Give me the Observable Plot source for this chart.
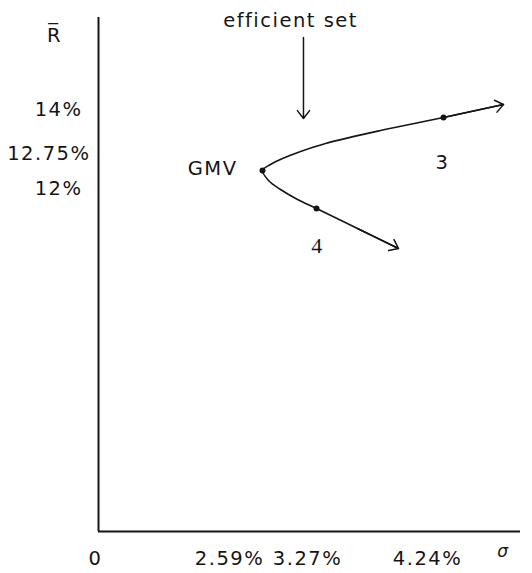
<!DOCTYPE html>
<html><head><meta charset="utf-8">
<script src="https://cdn.jsdelivr.net/npm/d3@7"></script>
<script src="https://cdn.jsdelivr.net/npm/@observablehq/plot@0.6"></script>
<style>
body{margin:0;background:#fff}
#chart svg text{letter-spacing:1.5px}
</style></head><body><div id="chart"></div>
<script>
// Efficient frontier (schematic): sigma (%) and mean return R (%)
const curveSigma  = [3.896, 3.583, 3.27, 3.031, 2.817, 2.666, 2.59, 2.691, 2.842, 3.069, 3.339, 3.759, 4.24, 4.698];
const curveReturn = [10.514, 11.257, 12.0, 12.178, 12.375, 12.553, 12.75, 12.892, 13.033, 13.198, 13.387, 13.693, 14.0, 14.307];

const pointNames  = ["GMV", "3", "4"];
const pointSigma  = [2.59, 4.24, 3.27];
const pointReturn = [12.75, 14, 12];

const xTicks      = [0, 2.59, 3.27, 4.24];
const xTickLabels = ["0", "2.59%", "3.27%", "4.24%"];
const yTicks      = [14, 12.75, 12];
const yTickLabels = ["14%", "12.75%", "12%"];

const annotText   = ["efficient set"];
const annotSigma  = [2.943];
const annotReturn = [16.288];
const annotArrowSigma = [3.106];
const annotArrowFrom  = [15.887];
const annotArrowTo    = [13.976];

const axisSigmaEnd  = 4.828;
const axisReturnTop = 16.36;

// label nudges (styling of the hand-drawn layout)
const xTickDx = [-3, -33, -9, -16];
const yTickDx = [-16, -8, -16];
const yTickDy = [-8, -17, -20];

const curve = curveSigma.map((s, i) => ({sigma: s, ret: curveReturn[i]}));
const pts = pointNames.map((n, i) => ({name: n, sigma: pointSigma[i], ret: pointReturn[i]}));
const n = curve.length;
const ends = [{from: curve[1], to: curve[0]}, {from: curve[n - 2], to: curve[n - 1]}];

const ink = "#151515";
const font = "DejaVu Sans";

const marks = [
  Plot.ruleX([0], {x: d => d, y1: () => 0, y2: () => axisReturnTop, stroke: ink, strokeWidth: 2}),
  Plot.ruleY([0], {y: d => d, x1: () => 0, x2: () => axisSigmaEnd, stroke: ink, strokeWidth: 2}),
  Plot.line(curve, {x: "sigma", y: "ret", curve: "catmull-rom", stroke: ink, strokeWidth: 1.6}),
  Plot.arrow(ends, {x1: d => d.from.sigma, y1: d => d.from.ret, x2: d => d.to.sigma, y2: d => d.to.ret,
    stroke: ink, strokeWidth: 1.5, headLength: 10, headAngle: 75}),
  Plot.dot(pts, {x: "sigma", y: "ret", r: 3, fill: ink}),
  // point labels
  Plot.text([pts[0]], {x: "sigma", y: "ret", text: "name", textAnchor: "end", dx: -25, dy: -2, fill: ink}),
  Plot.text([pts[1]], {x: "sigma", y: "ret", text: "name", dx: -1, dy: 45, fill: ink}),
  Plot.text([pts[2]], {x: "sigma", y: "ret", text: "name", dx: 1, dy: 37, fill: ink, fontFamily: "Liberation Serif", fontSize: 22}),
  // efficient set annotation
  Plot.text(annotText, {x: (d, i) => annotSigma[i], y: (d, i) => annotReturn[i], text: d => d, fill: ink}),
  Plot.arrow(annotArrowSigma, {x: d => d, y1: (d, i) => annotArrowFrom[i], y2: (d, i) => annotArrowTo[i],
    stroke: ink, strokeWidth: 1.5, headLength: 10, headAngle: 75}),
  // axis titles
  Plot.text(["R\u0305"], {x: () => 0, y: () => axisReturnTop, text: d => d, dx: -44, dy: 18, fill: ink}),
  Plot.text(["σ"], {x: () => axisSigmaEnd, y: () => 0, text: d => d, dx: -17, dy: 20, fill: ink, fontSize: 17, fontStyle: "italic"})
];
xTicks.forEach((t, i) => marks.push(
  Plot.text([t], {x: d => d, y: () => 0, text: () => xTickLabels[i], dx: xTickDx[i], dy: 27, fill: ink})
));
yTicks.forEach((t, i) => marks.push(
  Plot.text([t], {x: () => 0, y: d => d, text: () => yTickLabels[i], textAnchor: "end", dx: yTickDx[i], dy: yTickDy[i], fill: ink})
));

const chart = Plot.plot({
  width: 532, height: 573,
  x: {type: "linear", domain: [0, 2.59, 3.27, 4.24], range: [98, 262, 316, 443], axis: null},
  y: {type: "linear", domain: [0, 12, 12.75, 14], range: [531, 208, 170, 117], axis: null},
  style: {fontFamily: font, fontSize: "19.5px", color: ink, background: "#fff", overflow: "visible"},
  marks
});
document.getElementById("chart").appendChild(chart);
</script></body></html>
